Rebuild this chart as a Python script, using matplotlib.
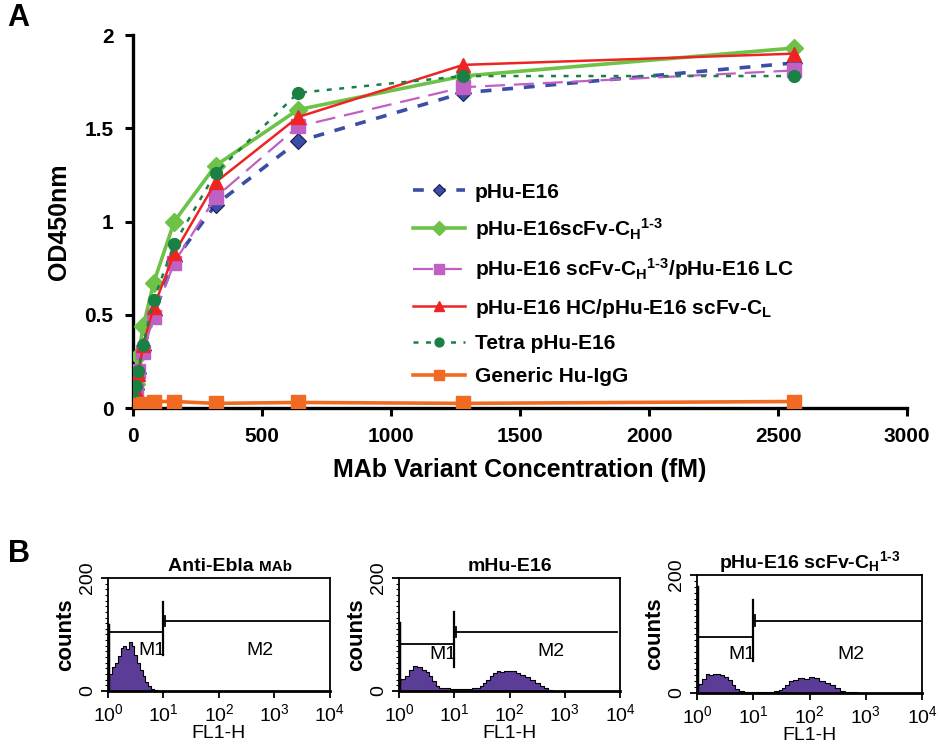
import matplotlib
matplotlib.use('Agg')
import matplotlib.pyplot as plt
import numpy as np

plt.rcParams['font.family'] = ['Liberation Sans', 'DejaVu Sans']
plt.rcParams['mathtext.fontset'] = 'custom'
plt.rcParams['mathtext.rm'] = 'Liberation Sans:bold'
plt.rcParams['mathtext.it'] = 'Liberation Sans:bold'
plt.rcParams['mathtext.bf'] = 'Liberation Sans:bold'

# ---- panel A data (concentration in fM, OD450) ----
conc = [2560, 1280, 640, 320, 160, 80, 40, 20, 10, 5, 2.5, 1.25]
od_phu = [1.85, 1.69, 1.43, 1.09, 0.79, 0.50, 0.31, 0.19, 0.10, 0.05, 0.03, 0.02]
od_scfv_ch = [1.93, 1.78, 1.60, 1.30, 1.00, 0.67, 0.44, 0.28, 0.13, 0.06, 0.03, 0.02]
od_scfv_lc = [1.81, 1.72, 1.51, 1.13, 0.78, 0.49, 0.30, 0.20, 0.09, 0.04, 0.03, 0.02]
od_hc_cl = [1.90, 1.84, 1.56, 1.21, 0.83, 0.54, 0.34, 0.18, 0.09, 0.05, 0.03, 0.02]
od_tetra = [1.78, 1.78, 1.69, 1.26, 0.88, 0.58, 0.34, 0.20, 0.12, 0.05, 0.03, 0.02]
od_igg = [0.035, 0.025, 0.03, 0.025, 0.035, 0.035, 0.02, 0.015, 0.01, 0.01, 0.01, 0.01]

sup13 = r'$^{\text{1-3}}$'
labels = ['pHu-E16',
          r'pHu-E16scFv-C$_{H}$' + sup13,
          r'pHu-E16 scFv-C$_{H}$' + sup13 + '/pHu-E16 LC',
          r'pHu-E16 HC/pHu-E16 scFv-C$_{L}$',
          'Tetra pHu-E16',
          'Generic Hu-IgG']

# ---- panel B data (log10 FL1-H, counts) ----
titles_b = ['Anti-Ebla ', 'mHu-E16', r'pHu-E16 scFv-C$_{H}$' + sup13]

log_fl1 = [0.0, 0.05, 0.1, 0.15, 0.2, 0.25, 0.3, 0.35, 0.4, 0.45, 0.5, 0.55,
           0.6, 0.65, 0.7, 0.75, 0.8, 0.85, 0.9]
cnt_ebla = [22, 30, 42, 50, 62, 76, 80, 74, 87, 80, 64, 50, 38, 26, 16, 8, 4, 1, 0]

log_fl2 = [0.0, 0.07, 0.14, 0.21, 0.29, 0.37, 0.45, 0.51, 0.57, 0.63, 0.69, 0.76,
           0.82, 1.0, 1.2, 1.43, 1.49, 1.55, 1.61, 1.67, 1.74, 1.8, 1.87, 1.94,
           2.0, 2.08, 2.15, 2.23, 2.32, 2.41, 2.5, 2.6, 2.66, 2.72, 2.8]
cnt_mhu = [20, 22, 27, 38, 45, 42, 37, 33, 26, 18, 9, 6, 5, 4, 4, 5, 9, 14, 19,
           26, 31, 35, 33, 36, 35, 36, 31, 29, 25, 20, 14, 9, 5, 2, 0]

log_fl3 = [0.0, 0.06, 0.12, 0.19, 0.25, 0.31, 0.37, 0.44, 0.52, 0.58, 0.65, 0.71,
           0.77, 0.9, 1.1, 1.3, 1.42, 1.48, 1.54, 1.6, 1.67, 1.75, 1.85, 1.95,
           2.04, 2.13, 2.22, 2.31, 2.4, 2.5, 2.59, 2.68, 2.78, 2.9]
cnt_phu = [14, 16, 24, 32, 30, 33, 32, 31, 27, 22, 13, 7, 3, 2, 2, 2, 3, 5, 8,
           14, 20, 22, 25, 24, 27, 25, 21, 17, 13, 8, 3, 2, 1, 0]

first_chan = [116, 121, 180]
m1_height = [104, 83, 95]
m2_height = [123, 104, 122]
m_label_y = [71, 64, 66]

fig = plt.figure(figsize=(9.39, 7.45), dpi=100)

# ================= panel A =================
ax = fig.add_axes([0.1416, 0.4523, 0.8244, 0.5007])
lw_sp = 2.4
ax.plot(conc, od_phu, color='#3a4ea6', lw=2.6, dashes=(3, 3), marker='D', ms=8.5,
        mfc='#3a4ea6', mec='#1c1c4a', mew=0.8, label=labels[0], zorder=3)
ax.plot(conc, od_scfv_ch, color='#6dc248', lw=2.6, marker='D', ms=9,
        mfc='#6dc248', mec='#6dc248', label=labels[1], zorder=3)
ax.plot(conc, od_scfv_lc, color='#c060c4', lw=1.6, dashes=(9, 4), marker='s', ms=10,
        mfc='#c060c4', mec='#c060c4', label=labels[2], zorder=3)
ax.plot(conc, od_hc_cl, color='#ee2424', lw=1.8, marker='^', ms=10,
        mfc='#ee2424', mec='#ee2424', label=labels[3], zorder=4)
ax.plot(conc, od_tetra, color='#1a8044', lw=1.8, dashes=(2, 3), marker='o', ms=8.5,
        mfc='#1a8044', mec='#1a8044', label=labels[4], zorder=4)
ax.plot(conc, od_igg, color='#f26a22', lw=2.6, marker='s', ms=10,
        mfc='#f26a22', mec='#f26a22', label=labels[5], zorder=5)

ax.set_xlim(0, 3000)
ax.set_ylim(0, 2)
ax.set_xticks([0, 500, 1000, 1500, 2000, 2500, 3000])
ax.set_yticks([0, 0.5, 1, 1.5, 2])
ax.set_yticklabels(['0', '0.5', '1', '1.5', '2'])
for s in ['top', 'right']:
    ax.spines[s].set_visible(False)
for s in ['left', 'bottom']:
    ax.spines[s].set_linewidth(lw_sp)
ax.tick_params(direction='out', length=6, width=2.2, labelsize=15, pad=8)
for t in ax.get_xticklabels() + ax.get_yticklabels():
    t.set_fontweight('bold')
ax.set_xlabel('MAb Variant Concentration (fM)', fontsize=18, fontweight='bold', labelpad=8)
ax.set_ylabel('OD450nm', fontsize=18, fontweight='bold', labelpad=10)

leg = ax.legend(loc='upper left', bbox_to_anchor=(0.42, 0.78), bbox_transform=fig.transFigure,
                frameon=False, fontsize=15, handlelength=2.5, handletextpad=0.45,
                labelspacing=0.69, markerscale=0.75)
for t in leg.get_texts():
    t.set_fontweight('bold')

fig.text(0.008, 0.965, 'A', fontsize=22, fontweight='bold')
fig.text(0.008, 0.245, 'B', fontsize=22, fontweight='bold')

# ================= panel B =================
rects = [[0.115, 0.0725, 0.2364, 0.1517],
         [0.4249, 0.0725, 0.2354, 0.1517],
         [0.7423, 0.0698, 0.2396, 0.1584]]
hists = [(log_fl1, cnt_ebla), (log_fl2, cnt_mhu), (log_fl3, cnt_phu)]
purple = '#5b3c97'

for i in range(3):
    bx = fig.add_axes(rects[i])
    lx, cnt = hists[i]
    xs = 10 ** np.array(lx)
    bx.fill_between(xs, cnt, step='mid', color=purple, lw=0)
    bx.step(xs, cnt, where='mid', color='black', lw=0.8)
    bx.plot([1.0, 1.0], [0, first_chan[i]], color='black', lw=2.5)
    # markers M1 / M2
    bx.plot([1.0, 10], [m1_height[i], m1_height[i]], color='black', lw=1.3)
    bx.plot([10, 10], [m1_height[i] - 40, m2_height[i] + 35], color='black', lw=1.6)
    m2_end = 9000 if i == 1 else 10000
    bx.plot([10.8, m2_end], [m2_height[i], m2_height[i]], color='black', lw=1.3)
    bx.plot([10.8, 10.8], [m2_height[i] - 8, m2_height[i] + 10], color='black', lw=1.3)
    bx.text(10 ** 0.55, m_label_y[i], 'M1', fontsize=14, ha='left', va='center')
    bx.text(10 ** 2.5, m_label_y[i] + (0 if i != 1 else 6), 'M2', fontsize=14, ha='left', va='center')

    bx.set_xscale('log')
    bx.set_xlim(1, 1e4)
    bx.set_ylim(0, 200)
    bx.set_xticks([1, 10, 100, 1000, 10000])
    bx.set_xticklabels([r'$\mathregular{10^{%d}}$' % k for k in range(5)])
    bx.set_yticks([0, 200])
    bx.set_yticks(np.arange(0, 201, 10), minor=True)
    bx.tick_params(axis='both', which='major', direction='out', length=5, width=1.3,
                   labelsize=14)
    bx.tick_params(axis='both', which='minor', direction='out', length=2.5, width=0.8)
    for t in bx.get_yticklabels():
        t.set_rotation(90)
        t.set_va('center')
    for s in bx.spines.values():
        s.set_linewidth(1.3)
    bx.spines['bottom'].set_linewidth(2.0)
    bx.set_xlabel('FL1-H', fontsize=14, labelpad=0)
    bx.set_ylabel('counts', fontsize=16, fontweight='bold', labelpad=2)
    if i == 0:
        bx.text(0.68, 1.06, titles_b[i], transform=bx.transAxes, fontsize=14,
                fontweight='bold', ha='right', va='baseline')
        bx.text(0.68, 1.06, 'MAb', transform=bx.transAxes, fontsize=11,
                fontweight='bold', ha='left', va='baseline')
    else:
        bx.text(0.5, 1.06, titles_b[i], transform=bx.transAxes, fontsize=14,
                fontweight='bold', ha='center', va='baseline')

plt.savefig('out.png', dpi=100)
